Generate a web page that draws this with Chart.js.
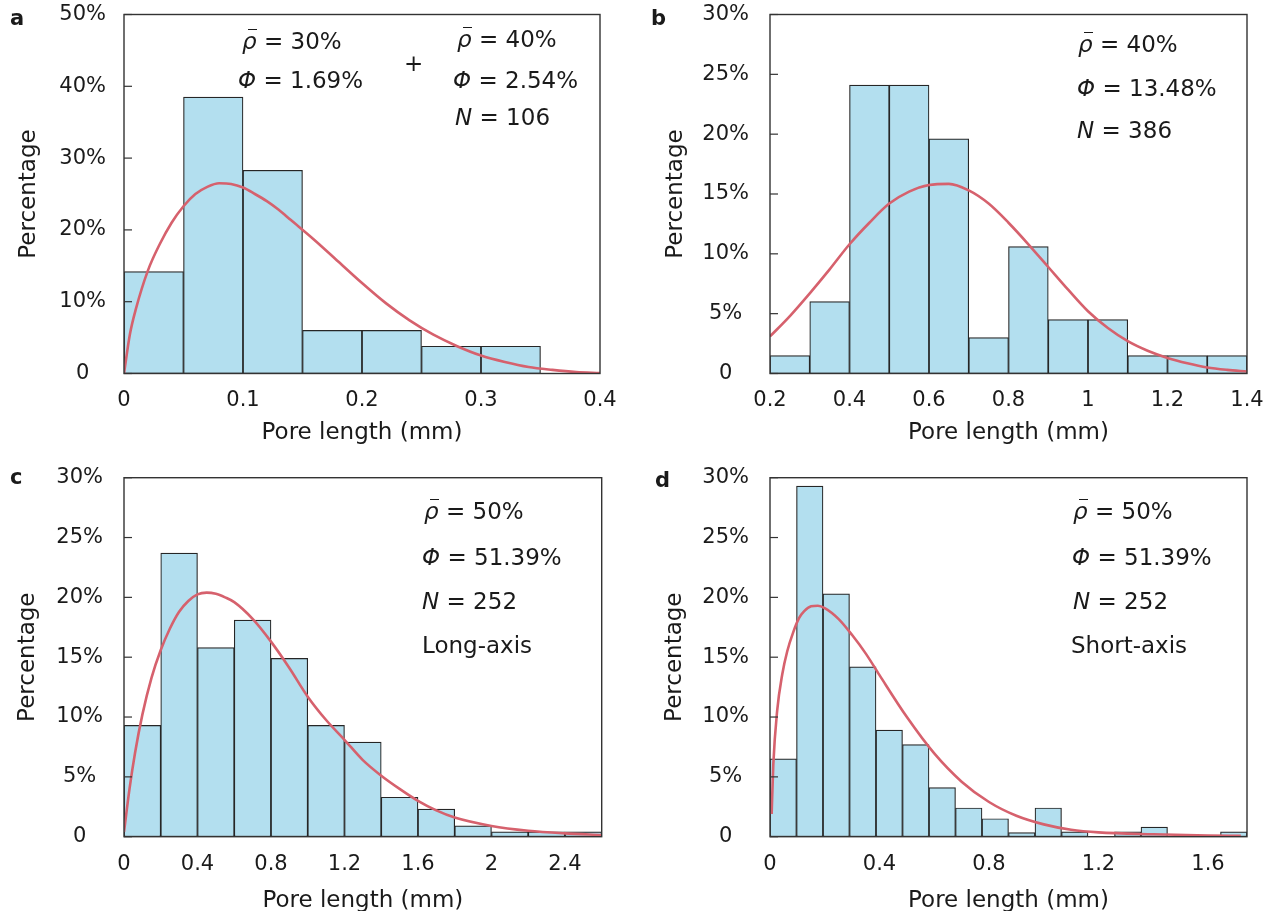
<!DOCTYPE html>
<html><head><meta charset="utf-8">
<title>Pore length distributions</title>
<script src="https://cdn.jsdelivr.net/npm/chart.js@4.4.1/dist/chart.umd.min.js"></script>
<style>
html,body{margin:0;padding:0;background:#fff}
body{width:1270px;height:911px;position:relative;overflow:hidden;font-family:"DejaVu Sans",Verdana,sans-serif;color:#1a1a1a}
canvas{position:absolute}
.pl{position:absolute;font-weight:bold;font-size:21px;line-height:21px}
.an{position:absolute;font-size:23px;line-height:23px;white-space:nowrap}
.an i{font-style:italic}
.rb{position:relative;font-style:italic}
.rb::after{content:'';position:absolute;left:0.24em;width:0.4em;top:0.06em;border-top:1.6px solid #1a1a1a}
</style></head><body>
<canvas id="ca" width="640" height="455" style="left:0;top:0"></canvas>
<canvas id="cb" width="630" height="455" style="left:640px;top:0"></canvas>
<canvas id="cc" width="640" height="456" style="left:0;top:455px"></canvas>
<canvas id="cd" width="630" height="456" style="left:640px;top:455px"></canvas>

<div class="pl" style="left:10px;top:8px">a</div>
<div class="pl" style="left:651px;top:8px">b</div>
<div class="pl" style="left:10px;top:467px">c</div>
<div class="pl" style="left:655px;top:470px">d</div>

<div class="an" style="left:242px;top:30px"><span class="rb">ρ</span> = 30%</div>
<div class="an" style="left:238px;top:69px"><i>Φ</i> = 1.69%</div>
<div class="an" style="left:404px;top:52px">+</div>
<div class="an" style="left:457px;top:28px"><span class="rb">ρ</span> = 40%</div>
<div class="an" style="left:453px;top:69px"><i>Φ</i> = 2.54%</div>
<div class="an" style="left:455px;top:106px"><i>N</i> = 106</div>

<div class="an" style="left:1078px;top:33px"><span class="rb">ρ</span> = 40%</div>
<div class="an" style="left:1077px;top:77px"><i>Φ</i> = 13.48%</div>
<div class="an" style="left:1077px;top:119px"><i>N</i> = 386</div>

<div class="an" style="left:424px;top:500px"><span class="rb">ρ</span> = 50%</div>
<div class="an" style="left:422px;top:546px"><i>Φ</i> = 51.39%</div>
<div class="an" style="left:422px;top:590px"><i>N</i> = 252</div>
<div class="an" style="left:422px;top:634px">Long-axis</div>

<div class="an" style="left:1073px;top:500px"><span class="rb">ρ</span> = 50%</div>
<div class="an" style="left:1072px;top:546px"><i>Φ</i> = 51.39%</div>
<div class="an" style="left:1073px;top:590px"><i>N</i> = 252</div>
<div class="an" style="left:1071px;top:634px">Short-axis</div>

<script>
// ---- Panel a: rho = 30% + 40%, N = 106 ----
const aBinStart = 0;
const aBinWidth = 0.05;
const aPercent = [14.2, 38.5, 28.3, 6.0, 6.0, 3.8, 3.8];
const aFitX = [0, 0.005, 0.01, 0.02, 0.03, 0.04, 0.05, 0.06, 0.07, 0.08, 0.09, 0.10, 0.11, 0.12, 0.13, 0.14, 0.16, 0.18, 0.20, 0.22, 0.24, 0.26, 0.28, 0.30, 0.32, 0.34, 0.36, 0.38, 0.40];
const aFitY = [0, 5.5, 9.0, 14.3, 18.0, 21.0, 23.3, 25.0, 26.0, 26.5, 26.4, 25.9, 25.0, 24.0, 22.8, 21.4, 18.6, 15.6, 12.6, 9.8, 7.4, 5.4, 3.8, 2.5, 1.6, 0.9, 0.5, 0.2, 0.05];
const aXTicks = {min: 0, max: 0.4, step: 0.1};
const aYTicks = {max: 50, step: 10};

// ---- Panel b: rho = 40%, N = 386 ----
const bBinStart = 0.2;
const bBinWidth = 0.1;
const bPercent = [1.5, 6.0, 24.1, 24.1, 19.6, 3.0, 10.6, 4.5, 4.5, 1.5, 1.5, 1.5];
const bFitX = [0.2, 0.25, 0.3, 0.35, 0.4, 0.45, 0.5, 0.55, 0.6, 0.65, 0.7, 0.75, 0.8, 0.85, 0.9, 0.95, 1.0, 1.05, 1.1, 1.15, 1.2, 1.25, 1.3, 1.35, 1.4];
const bFitY = [3.1, 4.8, 6.7, 8.7, 10.8, 12.6, 14.2, 15.2, 15.75, 15.85, 15.3, 14.2, 12.6, 10.8, 8.9, 7.0, 5.2, 3.8, 2.7, 1.9, 1.3, 0.85, 0.5, 0.3, 0.17];
const bXTicks = {min: 0.2, max: 1.4, step: 0.2};
const bYTicks = {max: 30, step: 5};

// ---- Panel c: rho = 50%, long-axis, N = 252 ----
const cBinStart = 0;
const cBinWidth = 0.2;
const cPercent = [9.3, 23.7, 15.8, 18.1, 14.9, 9.3, 7.9, 3.3, 2.3, 0.9, 0.4, 0.4, 0.4];
const cFitX = [0, 0.03, 0.06, 0.1, 0.15, 0.2, 0.25, 0.3, 0.35, 0.4, 0.45, 0.5, 0.55, 0.6, 0.7, 0.8, 0.9, 1.0, 1.1, 1.2, 1.3, 1.4, 1.5, 1.6, 1.7, 1.8, 2.0, 2.2, 2.4, 2.6];
const cFitY = [0.4, 4.0, 7.0, 10.2, 13.3, 15.6, 17.4, 18.8, 19.7, 20.25, 20.4, 20.3, 20.0, 19.6, 18.2, 16.3, 14.1, 11.7, 9.75, 8.1, 6.4, 5.1, 4.0, 3.0, 2.2, 1.6, 0.9, 0.5, 0.28, 0.14];
const cXTicks = {min: 0, max: 2.6, step: 0.4};
const cYTicks = {max: 30, step: 5};

// ---- Panel d: rho = 50%, short-axis, N = 252 ----
const dBinStart = 0;
const dBinWidth = 0.0968;
const dPercent = [6.5, 29.3, 20.3, 14.2, 8.9, 7.7, 4.1, 2.4, 1.5, 0.35, 2.4, 0.4, 0, 0.4, 0.8, 0, 0, 0.4];
const dFitX = [0.006, 0.012, 0.026, 0.045, 0.063, 0.085, 0.107, 0.125, 0.15, 0.175, 0.2, 0.25, 0.3, 0.35, 0.4, 0.5, 0.6, 0.7, 0.8, 0.9, 1.0, 1.1, 1.2, 1.4, 1.6, 1.72];
const dFitY = [1.9, 6.0, 10.5, 13.6, 15.5, 17.1, 18.3, 18.85, 19.25, 19.3, 19.1, 18.2, 16.85, 15.3, 13.5, 10.0, 6.96, 4.6, 2.9, 1.75, 1.03, 0.58, 0.36, 0.2, 0.1, 0.08];
const dXTicks = {min: 0, max: 1.7424, step: 0.4};
const dYTicks = {max: 30, step: 5};

const FONT = '"DejaVu Sans", Verdana, sans-serif';
const INK = '#1a1a1a';
const BAR_FILL = '#b3dfef';
const BAR_EDGE = '#262626';
const FIT = '#d6616d';

const framePlugin = {
  id: 'frame',
  afterDatasetsDraw(chart) {
    const {ctx, chartArea: a, scales: {y}} = chart;
    ctx.save();
    ctx.strokeStyle = '#333';
    ctx.lineWidth = 1.2;
    y.ticks.forEach(t => {
      const py = y.getPixelForValue(t.value);
      ctx.beginPath(); ctx.moveTo(a.left, py); ctx.lineTo(a.left + 8, py); ctx.stroke();
    });
    ctx.lineWidth = 1.4;
    ctx.strokeRect(a.left, a.top, a.right - a.left, a.bottom - a.top);
    ctx.restore();
  }
};

function makeChart(p) {
  const bars = p.percent.map((v, i) => ({x: p.binStart + (i + 0.5) * p.binWidth, y: v}));
  const fit = p.fitX.map((x, i) => ({x: x, y: p.fitY[i]}));
  return new Chart(document.getElementById(p.id), {
    type: 'bar',
    data: {datasets: [
      {type: 'line', data: fit, borderColor: FIT, borderWidth: 2.6, pointRadius: 0,
       cubicInterpolationMode: 'monotone', fill: false, order: 0},
      {type: 'bar', data: bars, backgroundColor: BAR_FILL, borderColor: BAR_EDGE, borderWidth: 1.2,
       borderSkipped: false, barPercentage: 1, categoryPercentage: 1, order: 1}
    ]},
    options: {
      responsive: false, animation: false, devicePixelRatio: 1,
      layout: {padding: {left: 0, top: p.plotTop - p.top, right: p.left + p.w - p.plotRight, bottom: 0}},
      plugins: {legend: {display: false}, tooltip: {enabled: false}},
      scales: {
        x: {type: 'linear', min: p.xt.min, max: p.xt.max, offset: false,
            grid: {display: false, drawTicks: false}, border: {display: false},
            ticks: {stepSize: p.xt.step, includeBounds: false, padding: p.xTickPad, color: INK,
                    font: {family: FONT, size: 21}, maxRotation: 0, autoSkip: false,
                    callback: v => String(+Number(v).toFixed(3))},
            title: {display: true, text: 'Pore length (mm)', color: INK, font: {family: FONT, size: 23},
                    padding: {top: 0, bottom: p.xTitlePad}},
            afterFit: s => { s.height = p.top + p.h - p.plotBottom; s.paddingLeft = 0; s.paddingRight = 0; }},
        y: {min: 0, max: p.yt.max,
            grid: {display: false, drawTicks: false}, border: {display: false},
            ticks: {stepSize: p.yt.step, padding: p.yTickPad, crossAlign: 'center', color: INK,
                    font: {family: FONT, size: 21}, callback: v => v === 0 ? '0' : v + '%'},
            title: {display: true, text: 'Percentage', color: INK, font: {family: FONT, size: 23},
                    padding: {top: p.yTitlePad, bottom: 0}},
            afterFit: s => { s.width = p.plotLeft - p.left; s.paddingTop = 0; s.paddingBottom = 0; }}
      }
    },
    plugins: [framePlugin]
  });
}

makeChart({id: 'ca', left: 0, top: 0, w: 640, h: 455, plotLeft: 124, plotRight: 600, plotTop: 14.5, plotBottom: 373.5,
  xt: aXTicks, yt: aYTicks, binStart: aBinStart, binWidth: aBinWidth, percent: aPercent, fitX: aFitX, fitY: aFitY,
  xTickPad: 14, xTitlePad: 8.2, yTitlePad: 15.5, yTickPad: 18});
makeChart({id: 'cb', left: 640, top: 0, w: 630, h: 455, plotLeft: 770, plotRight: 1247, plotTop: 14.5, plotBottom: 373.5,
  xt: bXTicks, yt: bYTicks, binStart: bBinStart, binWidth: bBinWidth, percent: bPercent, fitX: bFitX, fitY: bFitY,
  xTickPad: 14, xTitlePad: 8.2, yTitlePad: 22, yTickPad: 21});
makeChart({id: 'cc', left: 0, top: 455, w: 640, h: 456, plotLeft: 124, plotRight: 601.7, plotTop: 477.7, plotBottom: 836.7,
  xt: cXTicks, yt: cYTicks, binStart: cBinStart, binWidth: cBinWidth, percent: cPercent, fitX: cFitX, fitY: cFitY,
  xTickPad: 15, xTitlePad: -3.8, yTitlePad: 14, yTickPad: 21});
makeChart({id: 'cd', left: 640, top: 455, w: 630, h: 456, plotLeft: 770, plotRight: 1247, plotTop: 477.7, plotBottom: 836.7,
  xt: dXTicks, yt: dYTicks, binStart: dBinStart, binWidth: dBinWidth, percent: dPercent, fitX: dFitX, fitY: dFitY,
  xTickPad: 15, xTitlePad: -3.8, yTitlePad: 21, yTickPad: 21});
</script>
</body></html>
